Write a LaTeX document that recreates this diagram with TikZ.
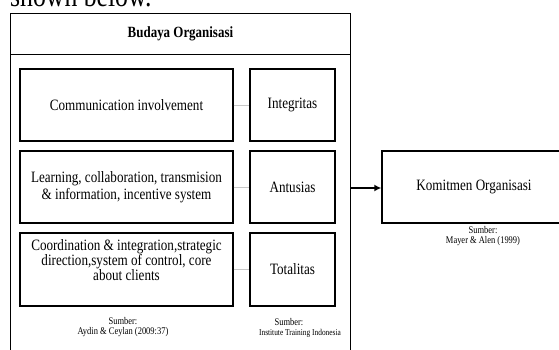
\documentclass[tikz,border=0pt]{standalone}
\usepackage{fontspec}
\setmainfont{Liberation Serif}[FakeStretch=0.83]
\usetikzlibrary{arrows.meta}
\begin{document}
\begin{tikzpicture}[x=1pt,y=-1pt,
  box/.style={draw, line width=1.4pt, inner sep=0pt, align=center,
    font=\fontsize{15.8}{16.8}\selectfont},
  frame/.style={draw, line width=1.4pt, inner sep=0pt},
  txt/.style={inner sep=0pt, align=center, font=\fontsize{15.8}{15}\selectfont},
  src/.style={inner sep=0pt, align=center, font=\fontsize{10.2}{10}\selectfont},
  link/.style={draw=black!22, line width=0.8pt}]
\useasboundingbox (0,0) rectangle (559,349);
\clip (0,0) rectangle (559,349);
% cut-off text at top
\node[anchor=base west, inner sep=0pt, font=\fontsize{31}{31}\selectfont] (shown) at (10,6) {shown below.};
% outer frame
\node[frame, anchor=north west, minimum width=340.5pt, minimum height=360pt] (outer) at (9.5,13) {};
\node[frame, anchor=north west, minimum width=340.5pt, minimum height=41pt,
  font=\fontsize{15.6}{16}\selectfont\bfseries] (head) at (9.5,13) {Budaya Organisasi};
% left boxes
\node[box, minimum width=213pt, minimum height=72pt] (c1) at (126.5,105) {Communication involvement};
\node[box, minimum width=213pt, minimum height=72pt] (c2) at (126.5,187) {Learning, collaboration, transmision\\\& information, incentive system};
\node[frame, minimum width=213pt, minimum height=73pt] (c3) at (126.5,269.5) {};
\node[txt] (c3t) at (126.5,260) {Coordination \& integration,strategic\\direction,system of control, core\\about clients};
% right boxes
\node[box, minimum width=85pt, minimum height=72pt] (i1) at (292.5,105) {Integritas};
\node[box, minimum width=85pt, minimum height=72pt] (i2) at (292.5,187) {Antusias};
\node[box, minimum width=85pt, minimum height=73pt] (i3) at (292.5,269.5) {Totalitas};
% links
\draw[link] (c1.east) -- (i1.west);
\draw[link] (c2.east) -- (i2.west);
\draw[link] (c3.east) -- (i3.west);
% sources
\node[src] (s1) at (123,327) {Sumber:\\Aydin \& Ceylan (2009:37)};
\node[src, anchor=base] (s2a) at (289,325) {Sumber:};
\node[inner sep=0pt, anchor=base, font=\fontsize{8.9}{9}\selectfont] (s2b) at (300,335) {Institute Training Indonesia};
% komitmen
\node[box, minimum width=184pt, minimum height=72pt] (k) at (474,187) {Komitmen Organisasi};
\node[src] (s3) at (483,236.5) {Sumber:\\Mayer \& Alen (1999)};
\draw[line width=1.4pt, -{Latex[length=7pt,width=7pt]}] (outer.east |- 0,188) -- (k.west |- 0,188);
\end{tikzpicture}
\end{document}
